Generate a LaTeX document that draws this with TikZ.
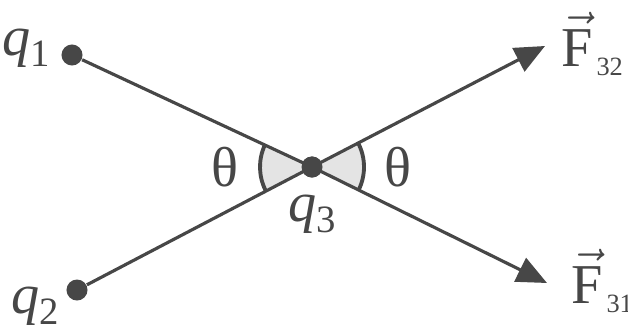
\documentclass[tikz,border=0pt]{standalone}
\usepackage{amsmath}
\usepackage{fontspec}
\setmainfont{Liberation Serif}
\usetikzlibrary{arrows.meta,positioning}
\definecolor{ink}{HTML}{474747}
\definecolor{wedge}{HTML}{E4E4E4}
\tikzset{>={Triangle[length=0.3cm,width=0.26cm]},
         charge/.style={circle,fill=ink,inner sep=0pt,minimum size=0.21cm},
         rod/.style={draw=ink,line width=0.9pt},
         ang/.style={draw=ink,line width=1.1pt},
         lbl/.style={inner sep=0pt,font=\fontsize{16}{19}\selectfont,text=ink}}
\newcommand{\chg}[1]{\textit{q}\raisebox{-0.2em}{\fontsize{11}{11}\selectfont#1}}
\newcommand{\frc}[1]{$\vec{\text{F}}$\kern1pt\raisebox{-0.15em}{\fontsize{7.5}{8}\selectfont#1}}

\begin{document}
\begin{tikzpicture}[x=0.01cm,y=0.01cm]
  \useasboundingbox (0,0) rectangle (628,333);
  % charges and arrow ends
  \node[charge] (q1) at (72,278) {};
  \node[charge] (q2) at (77,43) {};
  \node[charge] (q3) at (312,166) {};
  \coordinate (f32) at (545,287);
  \coordinate (f31) at (547,50);
  % angle wedges
  \fill[wedge] (q3.center) -- ++(155:52) arc[start angle=155,end angle=207.6,radius=52] -- cycle;
  \fill[wedge] (q3.center) -- ++(-26.3:52) arc[start angle=-26.3,end angle=27.4,radius=52] -- cycle;
  \draw[ang] (q3.center) ++(155:52) arc[start angle=155,end angle=207.6,radius=52];
  \draw[ang] (q3.center) ++(-26.3:52) arc[start angle=-26.3,end angle=27.4,radius=52];
  % lines
  \draw[rod] (q1) -- (q3.center);
  \draw[rod] (q2) -- (q3.center);
  \draw[rod,->] (q3.center) -- (f32);
  \draw[rod,->] (q3.center) -- (f31);
  \node[charge] at (q3) {};
  % labels
  \node[lbl,left=0.1cm of q1,yshift=2pt] (l1) {\chg{1}};
  \node[lbl,left=0.06cm of q2,yshift=-0.16cm] (l2) {\chg{2}};
  \node[lbl,below=0.16cm of q3] (l3) {\chg{3}};
  \node[lbl,right=0.16cm of f32,yshift=0.02cm] (lf32) {\frc{32}};
  \node[lbl,right=0.24cm of f31,yshift=0.02cm] (lf31) {\frc{31}};
  \node[lbl] (t1) at (225,166) {θ};
  \node[lbl] (t2) at (398,166) {θ};
\end{tikzpicture}
\end{document}
